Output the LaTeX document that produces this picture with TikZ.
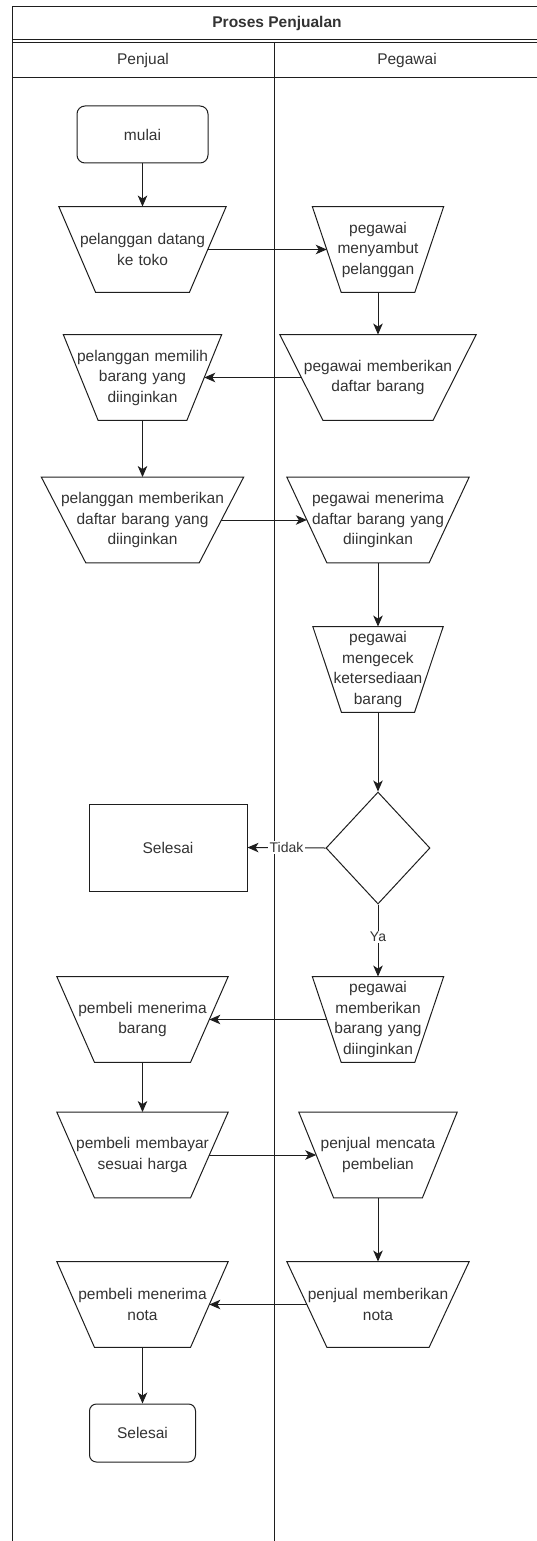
\documentclass[tikz,border=0pt]{standalone}
\usepackage{fontspec}
\setmainfont{Liberation Sans}
\usetikzlibrary{arrows.meta,calc,shapes.geometric}
\definecolor{ink}{HTML}{1E1E1E}
\definecolor{txt}{HTML}{333333}
\begin{document}
\begin{tikzpicture}[x=1pt,y=-1pt,
  every node/.style={font=\fontsize{15.5}{20.5}\selectfont, text=txt},
  frame/.style={draw=ink, line width=1pt},
  arr/.style={draw=ink, line width=1pt, -{Stealth[length=11pt,width=9.5pt,inset=3pt]}},
  lbl/.style={fill=white, inner sep=1.5pt, font=\fontsize{14}{16}\selectfont},
  % manual-input style trapezoid: wide top, narrow bottom
  trap/.style={text width=#1, inner sep=0pt, minimum height=85.5pt, align=center,
    append after command={\pgfextra{\draw[ink, line width=1pt, line join=miter]
      (\tikzlastnode.north west) -- (\tikzlastnode.north east)
      -- ($(\tikzlastnode.south east)!0.22!(\tikzlastnode.south west)$)
      -- ($(\tikzlastnode.south west)!0.22!(\tikzlastnode.south east)$) -- cycle;}}},
  term/.style={draw=ink, line width=1pt, rounded corners=8pt, inner sep=0pt, align=center},
  box/.style={draw=ink, line width=1pt, inner sep=0pt, align=center},
  decision/.style={draw=ink, line width=1pt, shape=diamond, inner sep=0pt,
    minimum width=104pt, minimum height=112pt}
]
\useasboundingbox (0,0) rectangle (537,1541);

% pool and lanes
\draw[frame] (12,1550) -- (12,7) -- (550,7);
\draw[frame] (12,40) -- (550,40);
\draw[frame] (12,43) -- (550,43);
\draw[frame] (12,78) -- (550,78);
\draw[frame] (274,43) -- (274,1550);
\node[font=\fontsize{15.5}{18}\selectfont\bfseries] (pool) at (277,23.5) {Proses Penjualan};
\node (laneA) at (143,60.5) {Penjual};
\node (laneB) at (407,60.5) {Pegawai};

% steps
\node[term, minimum width=131pt, minimum height=57pt] (mulai) at (142.5,134.5) {mulai};
\node[trap=167pt] (t1) at (142.5,249.5) {pelanggan datang\\ke toko};
\node[trap=131pt] (t2) at (378,249.5) {pegawai\\menyambut\\pelanggan};
\node[trap=196pt] (t3) at (378,377.5) {pegawai memberikan\\daftar barang};
\node[trap=158pt] (t4) at (142.5,377.5) {pelanggan memilih\\barang yang\\diinginkan};
\node[trap=202pt] (t5) at (142.5,520) {pelanggan memberikan\\daftar barang yang\\diinginkan};
\node[trap=182pt] (t6) at (378,520) {pegawai menerima\\daftar barang yang\\diinginkan};
\node[trap=130pt] (t7) at (378,669.5) {pegawai\\mengecek\\ketersediaan\\barang};
\node[decision] (cek) at (378,848) {};
\node[box, minimum width=158pt, minimum height=87pt] (stop1) at (168,847.5) {Selesai};
\node[trap=131pt] (t8) at (378,1019.5) {pegawai\\memberikan\\barang yang\\diinginkan};
\node[trap=171pt] (t9) at (142.5,1019.5) {pembeli menerima\\barang};
\node[trap=171pt] (t10) at (142.5,1155) {pembeli membayar\\sesuai harga};
\node[trap=158pt] (t11) at (378,1155) {penjual mencata\\pembelian};
\node[trap=182pt] (t12) at (378,1304.5) {penjual memberikan\\nota};
\node[trap=171pt] (t13) at (142.5,1304.5) {pembeli menerima\\nota};
\node[term, rounded corners=7pt, minimum width=106pt, minimum height=58pt] (stop2) at (142.5,1433) {Selesai};

% flow
\draw[arr] (mulai.south) -- (t1.north);
\draw[arr] ($(t1.east)!0.11!(t1.west)$) -- ($(t2.west)!0.11!(t2.east)$);
\draw[arr] (t2.south) -- (t3.north);
\draw[arr] ($(t3.west)!0.11!(t3.east)$) -- ($(t4.east)!0.11!(t4.west)$);
\draw[arr] (t4.south) -- (t5.north);
\draw[arr] ($(t5.east)!0.11!(t5.west)$) -- ($(t6.west)!0.11!(t6.east)$);
\draw[arr] (t6.south) -- (t7.north);
\draw[arr] (t7.south) -- (cek.north);
\draw[arr] (cek.west) -- node[lbl] {Tidak} (stop1.east);
\draw[arr] (cek.south) -- node[lbl, pos=0.45] {Ya} (t8.north);
\draw[arr] ($(t8.west)!0.11!(t8.east)$) -- ($(t9.east)!0.11!(t9.west)$);
\draw[arr] (t9.south) -- (t10.north);
\draw[arr] ($(t10.east)!0.11!(t10.west)$) -- ($(t11.west)!0.11!(t11.east)$);
\draw[arr] (t11.south) -- (t12.north);
\draw[arr] ($(t12.west)!0.11!(t12.east)$) -- ($(t13.east)!0.11!(t13.west)$);
\draw[arr] (t13.south) -- (stop2.north);
\end{tikzpicture}
\end{document}
